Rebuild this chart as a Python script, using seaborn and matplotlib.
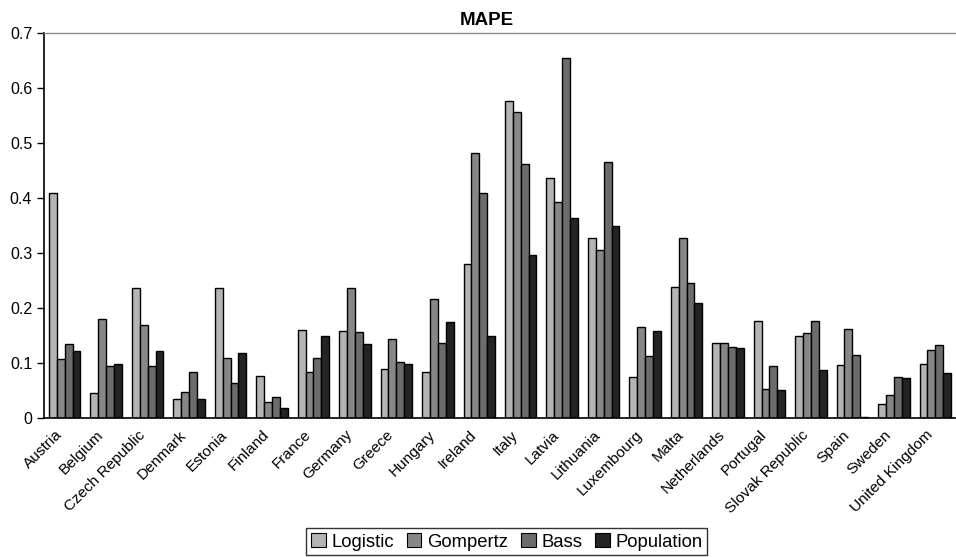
import pandas as pd
import numpy as np
import matplotlib.pyplot as plt
import seaborn as sns

countries = ['Austria', 'Belgium', 'Czech Republic', 'Denmark', 'Estonia', 'Finland',
             'France', 'Germany', 'Greece', 'Hungary', 'Ireland', 'Italy', 'Latvia',
             'Lithuania', 'Luxembourg', 'Malta', 'Netherlands', 'Portugal',
             'Slovak Republic', 'Spain', 'Sweden', 'United Kingdom']

logistic = [0.409, 0.046, 0.236, 0.035, 0.236, 0.077, 0.160, 0.158, 0.090, 0.083, 0.280,
            0.576, 0.437, 0.328, 0.075, 0.239, 0.137, 0.177, 0.150, 0.097, 0.026, 0.099]
gompertz = [0.108, 0.180, 0.170, 0.048, 0.110, 0.029, 0.084, 0.236, 0.143, 0.216, 0.481,
            0.556, 0.393, 0.305, 0.165, 0.327, 0.137, 0.053, 0.155, 0.161, 0.042, 0.123]
bass = [0.134, 0.095, 0.095, 0.084, 0.064, 0.039, 0.110, 0.156, 0.101, 0.137, 0.410,
        0.461, 0.655, 0.466, 0.112, 0.245, 0.130, 0.095, 0.177, 0.115, 0.075, 0.132]
population = [0.121, 0.099, 0.121, 0.035, 0.119, 0.019, 0.150, 0.134, 0.098, 0.174, 0.150,
              0.296, 0.364, 0.350, 0.158, 0.209, 0.128, 0.051, 0.088, 0.002, 0.073, 0.082]

models = ['Logistic', 'Gompertz', 'Bass', 'Population']
colors = ['#b4b4b4', '#878787', '#6c6c6c', '#242424']

df = pd.DataFrame({'Country': countries, 'Logistic': logistic, 'Gompertz': gompertz,
                   'Bass': bass, 'Population': population})
long_df = df.melt(id_vars='Country', var_name='Model', value_name='MAPE')

sns.set_style('white')
plt.rcParams['font.family'] = ['Liberation Sans', 'DejaVu Sans']
plt.rcParams['text.color'] = 'black'
plt.rcParams['xtick.color'] = 'black'
plt.rcParams['ytick.color'] = 'black'

fig = plt.figure(figsize=(9.56, 5.57), dpi=100)
ax = fig.add_axes([44 / 956, (557 - 418) / 557, 912 / 956, (418 - 33) / 557])

sns.barplot(data=long_df, x='Country', y='MAPE', hue='Model', hue_order=models,
            palette=colors, width=0.76, gap=0, edgecolor='black', linewidth=1,
            legend=False, ax=ax)

ax.set_xlim(-0.5, 21.27)
ax.set_ylim(0, 0.7)
ax.set_yticks(np.arange(0, 0.71, 0.1))
ax.set_yticklabels(['0', '0.1', '0.2', '0.3', '0.4', '0.5', '0.6', '0.7'], fontsize=11.5)
ax.set_xlabel('')
ax.set_ylabel('')
ax.set_title('MAPE', fontsize=13.5, fontweight='bold', pad=6, x=0.486)

# rotated labels end a little left of the category centre; boundary ticks as minor ticks
ax.set_xticks(np.arange(len(countries)) - 0.24)
ax.set_xticklabels(countries, rotation=45, ha='right', rotation_mode='anchor', fontsize=11.1)
ax.set_xticks(np.arange(-0.5, len(countries), 1), minor=True)
ax.tick_params(axis='x', which='major', length=0, pad=7)
ax.tick_params(axis='x', which='minor', length=5, width=1, color='black', direction='out')
ax.tick_params(axis='y', length=5, width=1, color='black', direction='out', left=True)

for side in ['left', 'bottom']:
    ax.spines[side].set_color('black')
    ax.spines[side].set_linewidth(1.2)
ax.spines['top'].set_color('#888888')
ax.spines['top'].set_linewidth(1)
ax.spines['right'].set_visible(False)

handles = [plt.Rectangle((0, 0), 1, 1, facecolor=c, edgecolor='black', linewidth=0.8)
           for c in colors]
leg = fig.legend(handles, models, loc='lower center', bbox_to_anchor=(0.53, 0.0),
                 ncol=4, fontsize=13.3, frameon=True, fancybox=False,
                 handlelength=0.8, handleheight=0.8, handletextpad=0.3,
                 columnspacing=0.7, borderpad=0.25, borderaxespad=0.1)
leg.get_frame().set_edgecolor('black')
leg.get_frame().set_linewidth(1)

fig.savefig('out.png', dpi=100)
